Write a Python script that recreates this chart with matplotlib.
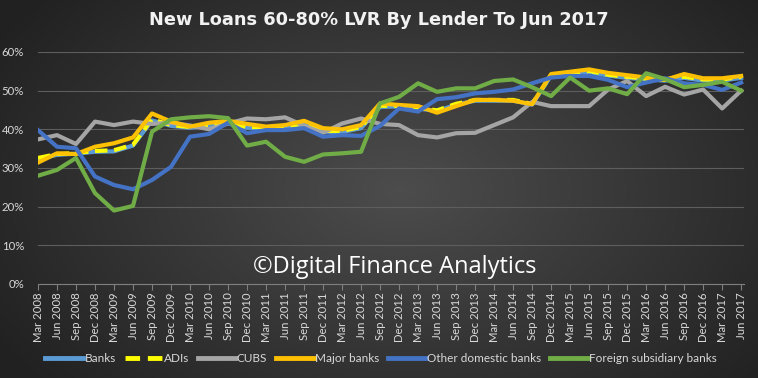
import numpy as np
import matplotlib
matplotlib.use('Agg')
from matplotlib import pyplot as plt

# quarterly labels, Mar 2008 .. Jun 2017
quarters = []
for yr in range(2008, 2018):
    for m in ['Mar', 'Jun', 'Sep', 'Dec']:
        quarters.append('%s %d' % (m, yr))
quarters = quarters[:38]

# shares (%)
banks = [32.3, 33.4, 33.7, 34.2, 34.3, 35.8, 42.3, 40.9, 40.4, 40.9, 41.6, 40.4, 40.3, 40.6, 41.3, 39.4,
         39.3, 40.3, 45.8, 45.9, 45.4, 44.7, 46.4, 47.4, 47.4, 47.4, 46.4, 53.9, 53.9, 54.8, 53.9, 53.3,
         52.9, 52.6, 53.3, 52.6, 52.6, 53.3]
adis = [32.6, 33.6, 33.9, 34.4, 34.6, 36.0, 42.6, 41.1, 40.6, 41.1, 41.8, 40.6, 40.6, 40.8, 41.5, 39.6,
        39.6, 40.6, 46.1, 46.1, 45.6, 44.9, 46.6, 47.6, 47.6, 47.6, 46.6, 54.1, 54.1, 55.1, 54.1, 53.6,
        53.1, 52.9, 53.6, 52.9, 52.9, 53.6]
cubs = [37.4, 38.5, 36.2, 42.0, 41.1, 42.0, 41.4, 41.7, 41.0, 40.0, 41.5, 42.8, 42.6, 43.1, 40.9, 39.1,
        41.5, 42.8, 41.4, 41.1, 38.5, 37.9, 39.0, 39.1, 41.1, 43.1, 47.1, 46.0, 46.0, 46.0, 50.3, 52.5,
        48.6, 51.0, 49.0, 50.3, 45.4, 50.0]
major = [31.4, 33.8, 33.6, 35.5, 36.4, 37.9, 44.1, 42.0, 40.7, 41.7, 42.2, 41.4, 40.7, 41.1, 42.2, 40.3,
         40.0, 41.1, 46.7, 46.3, 46.0, 44.3, 46.0, 47.6, 47.6, 47.4, 46.5, 54.3, 54.9, 55.5, 54.6, 54.0,
         53.4, 52.8, 54.3, 53.2, 53.2, 53.8]
other_dom = [39.8, 35.5, 35.1, 27.8, 25.6, 24.5, 26.9, 30.3, 38.1, 38.8, 41.7, 39.0, 39.8, 39.8, 40.3, 38.1,
             38.5, 38.3, 40.9, 45.4, 44.6, 47.8, 48.3, 49.3, 49.7, 50.3, 51.9, 53.4, 53.8, 53.8, 52.8, 50.9,
             52.1, 53.2, 51.9, 51.5, 50.2, 52.1]
foreign = [28.0, 29.5, 32.6, 23.5, 19.0, 20.2, 39.4, 42.6, 43.1, 43.4, 42.9, 35.8, 36.8, 32.9, 31.6, 33.5,
           33.8, 34.2, 46.7, 48.4, 51.9, 49.7, 50.6, 50.6, 52.5, 52.9, 50.9, 48.6, 53.4, 50.0, 50.6, 49.1,
           54.5, 53.0, 50.9, 51.5, 52.3, 50.0]

series = [('Banks', banks, '#5B9BD5', '-'),
          ('ADIs', adis, '#FFFF00', (0, (3.0, 1.6))),
          ('CUBS', cubs, '#A5A5A5', '-'),
          ('Major banks', major, '#FFC000', '-'),
          ('Other domestic banks', other_dom, '#4472C4', '-'),
          ('Foreign subsidiary banks', foreign, '#70AD47', '-')]

plt.rcParams['font.family'] = ['Lato', 'DejaVu Sans']

W, H = 758, 378
fig = plt.figure(figsize=(W / 100, H / 100), dpi=100)

# dark radial background
bg = fig.add_axes([0, 0, 1, 1])
yy, xx = np.mgrid[0:H, 0:W]
r = np.sqrt(((xx - 400) / 420.0) ** 2 + ((yy - 190) / 260.0) ** 2)
shade = np.clip(0.30 - 0.15 * r, 0.13, 0.30)
bg.imshow(np.dstack([shade] * 3), aspect='auto', extent=[0, 1, 0, 1])
bg.axis('off')

ax = fig.add_axes([38 / W, 1 - 284 / H, (744 - 38) / W, (284 - 52) / H])
ax.patch.set_alpha(0)
x = np.arange(len(quarters))
for name, vals, col, ls in series:
    ax.plot(x, np.array(vals) / 100.0, color=col, lw=3.0, ls=ls, label=name,
            solid_joinstyle='round')

ax.set_ylim(0, 0.6)
ax.set_xlim(0.02, 37.15)
ax.set_yticks(np.arange(0, 0.61, 0.1))
ax.set_yticklabels(['%d%%' % (v * 100) for v in np.arange(0, 0.61, 0.1)])
ax.set_xticks(x)
ax.set_xticklabels(quarters, rotation=90)
ax.tick_params(axis='x', colors='#7f7f7f', length=4, width=0.8, labelcolor='#D9D9D9',
               labelsize=8.2, pad=2)
ax.tick_params(axis='y', length=0, labelcolor='#D9D9D9', labelsize=8.2, pad=10)
ax.grid(axis='y', color='#5e5e5e', lw=0.8)
ax.set_axisbelow(True)
for s in ['top', 'right', 'left']:
    ax.spines[s].set_visible(False)
ax.spines['bottom'].set_color('#7f7f7f')

fig.text(0.5, 1 - 20 / H, 'New Loans 60-80% LVR By Lender To Jun 2017', ha='center', va='center',
         color='#F2F2F2', fontsize=12.8, fontweight='bold', family='DejaVu Sans')
fig.text(395 / W, 1 - 267 / H, '\u00a9Digital Finance Analytics', ha='center', va='center',
         color='white', fontsize=17, family='Open Sans')

leg = fig.legend(loc='center', bbox_to_anchor=(381 / W, 1 - 359 / H), ncol=6, frameon=False,
                 fontsize=8.5, labelcolor='#D9D9D9', handlelength=3.2, handletextpad=0.1,
                 columnspacing=0.75)
for ln in leg.get_lines():
    ln.set_linewidth(3.5)

fig.savefig('out.png', dpi=100)
